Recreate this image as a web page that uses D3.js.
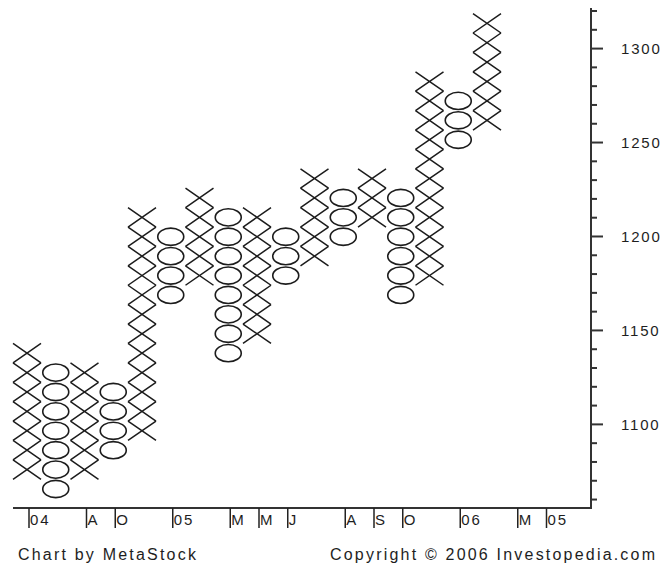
<!DOCTYPE html>
<html>
<head>
<meta charset="utf-8">
<script src="https://cdn.jsdelivr.net/npm/d3@7"></script>
<style>
  html, body { margin: 0; padding: 0; background: #fff; }
  svg { display: block; }
  text { font-family: "Liberation Sans", Arial, sans-serif; fill: #1e1e1e; }
</style>
</head>
<body>
<div id="chart"></div>
<script>
// ---- data (point & figure, box size 10) ----
const colType  = ["X","O","X","O","X","O","X","O","X","O","X","O","X","O","X","O","X"];
const colLow   = [1080,1070,1080,1090,1100,1170,1180,1140,1150,1180,1190,1200,1210,1170,1180,1250,1260];
const colHigh  = [1140,1130,1130,1120,1210,1200,1220,1210,1210,1200,1230,1220,1230,1220,1280,1270,1310];
const boxSize  = 10;
const monthLabels = ["04","A","O","05","M","M","J","A","S","O","06","M","05"];
const monthCols   = [0,2,3,5,7,8,9,11,12,13,15,17,18];
const priceTicks  = d3.range(1060, 1321, 10);
const priceLabels = [1100,1150,1200,1250,1300];
const footerLeft  = "Chart by MetaStock";
const footerRight = "Copyright \u00A9 2006 Investopedia.com";

const W = 661, H = 564;
const svg = d3.select("#chart").append("svg").attr("width", W).attr("height", H);

// scales
const x = d3.scaleLinear().domain([0, 18]).range([27, 544.5]);
const yAxis = d3.scaleLinear().domain([1055.5, 1321.6]).range([508, 8]);
const yBox = d3.scaleLinear().domain([1070, 1310]).range([489, 23.3]);

const halfW = 14, halfH = (yBox(1070) - yBox(1080)) / 2;

// marks
const boxes = [];
colType.forEach((t, i) => {
  for (let v = colLow[i]; v <= colHigh[i]; v += boxSize) boxes.push({ i, t, v });
});

const g = svg.append("g");
const xs = boxes.filter(d => d.t === "X");
const os = boxes.filter(d => d.t === "O");

g.selectAll("path.x").data(xs).join("path")
  .attr("class", "x")
  .attr("d", d => {
    const cx = x(d.i), cy = yBox(d.v);
    return `M${cx - halfW},${cy - halfH}L${cx + halfW},${cy + halfH}M${cx + halfW},${cy - halfH}L${cx - halfW},${cy + halfH}`;
  })
  .attr("stroke", "#1c1c1c").attr("stroke-width", 1.5).attr("fill", "none");

g.selectAll("ellipse.o").data(os).join("ellipse")
  .attr("class", "o")
  .attr("cx", d => x(d.i)).attr("cy", d => yBox(d.v))
  .attr("rx", 13).attr("ry", 8.6)
  .attr("stroke", "#1c1c1c").attr("stroke-width", 1.6).attr("fill", "none");

// right axis
const axisX = 591;
svg.append("line").attr("x1", axisX).attr("x2", axisX).attr("y1", 8).attr("y2", 509)
  .attr("stroke", "#333").attr("stroke-width", 2);
svg.selectAll("line.ytick").data(priceTicks).join("line")
  .attr("class", "ytick")
  .attr("x1", axisX).attr("x2", d => axisX + (priceLabels.includes(d) ? 12 : 6))
  .attr("y1", d => yAxis(d)).attr("y2", d => yAxis(d))
  .attr("stroke", "#333").attr("stroke-width", 2);
svg.selectAll("text.ylab").data(priceLabels).join("text")
  .attr("class", "ylab")
  .attr("x", 621).attr("y", d => yAxis(d)).attr("dy", "0.36em")
  .attr("font-size", 15).attr("letter-spacing", "1.8px")
  .text(d => d);

// bottom axis
svg.append("line").attr("x1", 13).attr("x2", axisX).attr("y1", 508).attr("y2", 508)
  .attr("stroke", "#333").attr("stroke-width", 2);
const mg = svg.selectAll("g.month").data(monthLabels).join("g").attr("class", "month")
  .attr("transform", (d, k) => `translate(${x(monthCols[k]) + 2},0)`);
mg.append("line").attr("x1", 0).attr("x2", 0).attr("y1", 508).attr("y2", 528)
  .attr("stroke", "#222").attr("stroke-width", 1.5);
mg.append("text").attr("x", 1).attr("y", 525)
  .attr("font-size", 15).attr("letter-spacing", "2px")
  .text(d => d);

// footer
svg.append("text").attr("x", 18).attr("y", 560).attr("font-size", 16)
  .attr("letter-spacing", "2.2px").text(footerLeft);
svg.append("text").attr("x", 330).attr("y", 560).attr("font-size", 16)
  .attr("letter-spacing", "2.2px").text(footerRight);
</script>
</body>
</html>
